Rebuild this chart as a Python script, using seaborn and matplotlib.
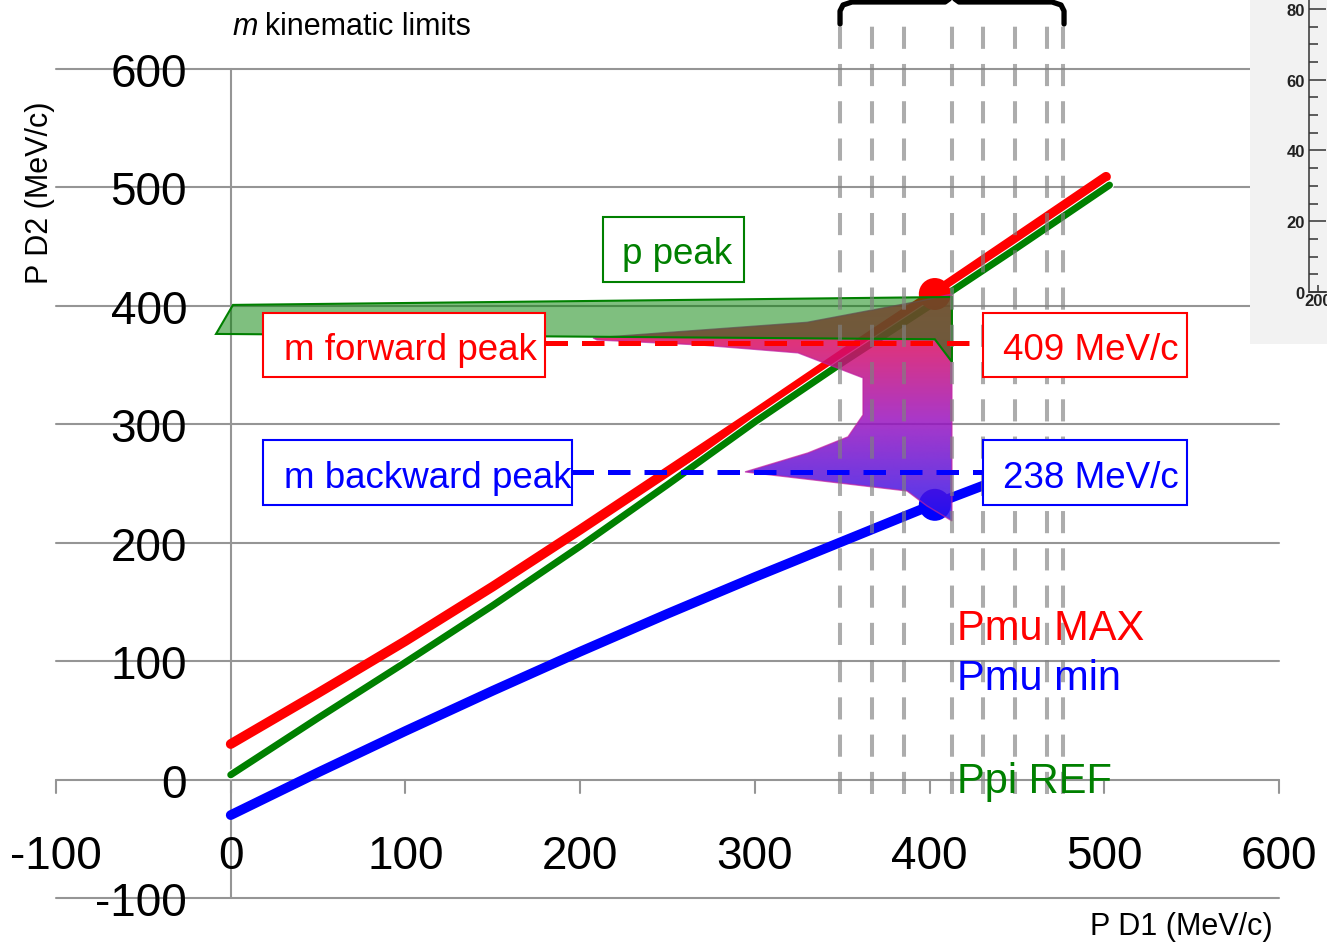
import numpy as np
import matplotlib
matplotlib.use("Agg")
import matplotlib.pyplot as plt
import matplotlib.patheffects as pe
import seaborn as sns
from matplotlib.patches import Polygon, Rectangle
from matplotlib.colors import LinearSegmentedColormap
from matplotlib.ticker import MultipleLocator

# kinematic curves, P D1 vs P D2 (MeV/c)
pd1_max = [0, 50, 100, 150, 200, 250, 300, 350, 400, 450, 501]
pd2_max = [30, 73, 117, 163, 211, 260, 309, 359, 408, 458, 509]
pd1_ref = [0, 50, 100, 150, 200, 250, 300, 350, 400, 450, 503]
pd2_ref = [4, 52, 99, 147, 197, 249, 302, 352, 400, 449, 502]
pd1_min = [0, 50, 100, 150, 200, 250, 300, 350, 400, 432]
pd2_min = [-30, 6, 41, 75, 108, 140, 171, 201, 231, 249]

# peak markers and reference levels
peak_x = [403, 403]
peak_y = [410, 232]
peak_colors = ["red", "blue"]
fwd_level, fwd_span = 369, (180, 430.5)
bwd_level, bwd_span = 260, (195, 430.5)
fwd_label = "409 MeV/c"
bwd_label = "238 MeV/c"

# vertical dashed guide lines (P D1)
guide_x = [348.6, 366.9, 385.2, 412.7, 430.8, 449.1, 467.4, 476.6]

# p peak band outline
ppeak_x = [-8.4, 1.3, 412.8, 412.8, 403.0]
ppeak_y = [376.3, 400.8, 407.5, 352.7, 371.8]

# m peak outline
mpeak_x = [207.4, 329.9, 394.5, 412.8, 412.8, 398.5, 387.1, 294.4, 330.4,
           353.3, 361.9, 361.9, 324.7, 268.6, 209.7]
mpeak_y = [372.9, 386.1, 404.1, 410.0, 218.4, 231.1, 243.7, 259.8, 275.8,
           289.4, 307.9, 339.2, 360.3, 367.0, 371.2]

x_ticks = [-100, 0, 100, 200, 300, 400, 500, 600]
y_ticks = [-100, 0, 100, 200, 300, 400, 500, 600]

# inset axis ticks
inset_y = [0, 20, 40, 60, 80]
inset_x = [200]

# pixel geometry of the reference frame
X0, SX = 230.7, 1.7471   # px of P D1 = 0, px per MeV/c
Y0, SY = 780.6, 1.1843   # px of P D2 = 0, px per MeV/c


def px(u, v):
    return (u - X0) / SX, (Y0 - v) / SY


sns.set_theme(style="white")
plt.rcParams["font.family"] = ["Liberation Sans", "DejaVu Sans"]
plt.rcParams["text.color"] = "black"

fig = plt.figure(figsize=(13.27, 9.45), dpi=100)
ax = fig.add_axes([0, 0, 1, 1])
ax.axis("off")

grid_c = "#959595"
# horizontal grid and frame
for yv in y_ticks:
    ax.plot([-100, 600], [yv, yv], color=grid_c, lw=1.5, zorder=1)
ax.plot([0, 0], [-100, 600], color=grid_c, lw=1.5, zorder=1)
for xv in x_ticks:
    ax.plot([xv, xv], [0, -11], color=grid_c, lw=1.5, zorder=1)

# tick labels
for yv in y_ticks:
    tx, _ = px(187, 0)
    ax.text(tx, yv - 17 / SY, str(yv), ha="right", va="baseline",
            fontsize=33, color="black", zorder=12)
for xv in x_ticks:
    _, ty = px(0, 869)
    ax.text(xv, ty, str(xv), ha="center", va="baseline",
            fontsize=33, color="black", zorder=12)

# kinematic curves
sns.lineplot(x=pd1_max, y=pd2_max, ax=ax, color="red", lw=7, sort=False,
             estimator=None, solid_capstyle="round", zorder=3)
sns.lineplot(x=pd1_min, y=pd2_min, ax=ax, color="blue", lw=7, sort=False,
             estimator=None, solid_capstyle="round", zorder=3)
sns.lineplot(x=pd1_ref, y=pd2_ref, ax=ax, color="green", lw=5, sort=False,
             estimator=None, zorder=4,
             path_effects=[pe.Stroke(linewidth=6.6, foreground="white"), pe.Normal()])

sns.scatterplot(x=peak_x, y=peak_y, ax=ax, hue=peak_colors,
                palette={"red": "red", "blue": "blue"}, s=530,
                edgecolor="none", legend=False, zorder=5)

# m peak gradient fill
cmap = LinearSegmentedColormap.from_list(
    "mpk", [(0, "#2814ef"), (0.45, "#9b14be"), (0.8, "#dc0e60"), (1, "#e80c58")])
grad = np.linspace(1, 0, 256).reshape(-1, 1)
im = ax.imshow(grad, extent=[min(mpeak_x), max(mpeak_x), min(mpeak_y), max(mpeak_y)],
               aspect="auto", cmap=cmap, alpha=0.85, zorder=6, interpolation="bicubic")
mpoly = Polygon(np.column_stack([mpeak_x, mpeak_y]), closed=True,
                facecolor="none", edgecolor="#c020a0", lw=1.0, alpha=0.7, zorder=6)
ax.add_patch(mpoly)
im.set_clip_path(mpoly)

# p peak band
ax.add_patch(Polygon(np.column_stack([ppeak_x, ppeak_y]), closed=True,
                     facecolor=(0, 0.5, 0, 0.5), edgecolor="green", lw=1.5, zorder=7))

# guide lines
for gx in guide_x:
    ax.plot([gx, gx], [-12, 637], color="gray", alpha=0.65, lw=2.9,
            linestyle=(0, (5.5, 3.75)), zorder=8)

# bracket on top
bx = [840, 840, 843, 852, 945, 952, 959, 1052, 1061, 1064, 1064]
by = [25, 12, 6, 3, 3, -2, 3, 3, 6, 12, 25]
bpts = [px(u, v) for u, v in zip(bx, by)]
ax.plot([p[0] for p in bpts], [p[1] for p in bpts], color="black", lw=3.8,
        solid_joinstyle="round", zorder=9)

# reference levels
ax.plot(fwd_span, [fwd_level, fwd_level], color="red", lw=3.6,
        linestyle=(0, (4.5, 2.8)), zorder=9)
ax.plot(bwd_span, [bwd_level, bwd_level], color="blue", lw=3.6,
        linestyle=(0, (4.5, 2.8)), zorder=9)


def box(x0, y0, x1, y1, text, color, tx, base):
    a = px(x0, y1)
    b = px(x1, y0)
    ax.add_patch(Rectangle(a, b[0] - a[0], b[1] - a[1], facecolor="white",
                           edgecolor=color, lw=1.5, zorder=10))
    p = px(tx, base)
    ax.text(p[0], p[1], text, color=color, fontsize=26.5, ha="left",
            va="baseline", zorder=11)


box(603, 218, 744, 283, "p peak", "green", 622, 264)
box(263, 314, 545, 378, "m forward peak", "red", 284, 360)
box(983, 314, 1187, 378, fwd_label, "red", 1003, 360)
box(263, 441, 572, 506, "m backward peak", "blue", 284, 488)
box(983, 441, 1187, 506, bwd_label, "blue", 1003, 488)

# curve labels
for lab, col, base in [("Pmu MAX", "red", 640), ("Pmu min", "blue", 690),
                       ("Ppi REF", "green", 793)]:
    p = px(957, base)
    ax.text(p[0], p[1], lab, color=col, fontsize=30, ha="left", va="baseline", zorder=11)

# titles
p = px(232, 35)
ax.text(p[0], p[1], "m", style="italic", fontsize=22, ha="left", va="baseline")
p = px(265, 35)
ax.text(p[0], p[1], "kinematic limits", fontsize=22, ha="left", va="baseline")
p = px(40, 193)
ax.text(p[0], p[1], "P D2 (MeV/c)", rotation=90, fontsize=22, ha="center", va="center")
p = px(1273, 927)
ax.text(p[0], p[1], "P D1 (MeV/c)", fontsize=22, ha="right", va="center")

ax.set_xlim(-100 - 56 / SX, 600 + 48 / SX)
ax.set_ylim(-100 - 46 / SY, 600 + 70 / SY)

# inset in the top right corner
fig.add_artist(Rectangle((1250 / 1327, 1 - 345 / 945), 77 / 1327, 345 / 945,
                         transform=fig.transFigure, facecolor="#f2f2f2",
                         edgecolor="none", zorder=1))
ax2 = fig.add_axes([1309 / 1327, 1 - 293 / 945, 0.1, 293 / 945], zorder=2)
ax2.patch.set_alpha(0)
ax2.set_ylim(0, 82.8)
ax2.set_xlim(193, 293)
ax2.set_yticks(inset_y)
ax2.set_xticks(inset_x)
ax2.yaxis.set_minor_locator(MultipleLocator(5))
for s in ["top", "right"]:
    ax2.spines[s].set_visible(False)
for s in ["left", "bottom"]:
    ax2.spines[s].set_color("#333333")
    ax2.spines[s].set_linewidth(1.1)
ax2.tick_params(axis="y", which="major", direction="in", length=12, width=1.1,
                color="#333333", pad=3, labelsize=12, left=True)
ax2.tick_params(axis="y", which="minor", direction="in", length=6.5, width=1.1,
                color="#333333", left=True)
ax2.tick_params(axis="x", which="major", direction="in", length=5, width=1.1,
                color="#333333", pad=1, labelsize=12, bottom=True)
for t in ax2.get_yticklabels() + ax2.get_xticklabels():
    t.set_fontweight("bold")
    t.set_color("#222222")
ax2.grid(False)

fig.savefig("out.png", dpi=100)
